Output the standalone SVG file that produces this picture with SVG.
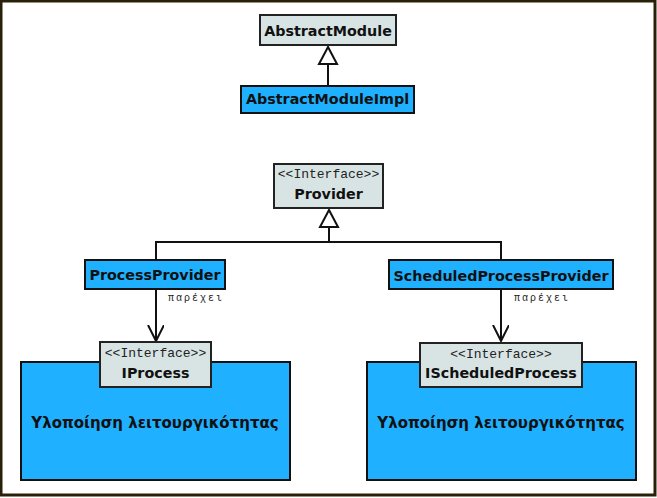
<svg xmlns="http://www.w3.org/2000/svg" width="657" height="498" viewBox="0 0 657 498">
<style>
.blue{fill:#1fb0ff;stroke:#111;stroke-width:2}
.grey{fill:#d8e4e4;stroke:#222;stroke-width:2}
.lbl{font-family:"DejaVu Sans","Verdana",sans-serif;font-weight:bold;font-size:14.3px;fill:#111;text-anchor:middle}
.big{font-family:"DejaVu Sans","Verdana",sans-serif;font-weight:bold;font-size:15px;fill:#111;text-anchor:middle}
.st{font-family:"Liberation Mono","Courier New",monospace;font-size:13px;fill:#222;text-anchor:middle}
.rel{font-family:"Liberation Mono","Courier New",monospace;font-size:10px;fill:#222;letter-spacing:2px}
.ln{fill:none;stroke:#111;stroke-width:2}
.tri{fill:#fff;stroke:#111;stroke-width:2}
</style>
<defs>
<marker id="open" markerWidth="20" markerHeight="20" refX="16" refY="8" orient="auto" markerUnits="userSpaceOnUse">
<path d="M0,0 L16,8 L0,16" fill="none" stroke="#111" stroke-width="2"/>
</marker>
</defs>
<rect x="1" y="1" width="654" height="494" fill="#fff" stroke="#2a2008" stroke-width="3"/>
<g id="connectors">
<line class="ln" x1="328" y1="85" x2="328" y2="64"/>
<polygon class="tri" points="328,47 319,64 337,64"/>
<polyline class="ln" points="156,260 156,242 501,242 501,260"/>
<line class="ln" x1="329" y1="242" x2="329" y2="227"/>
<polygon class="tri" points="329,210 320,227 338,227"/>
<line class="ln" x1="156" y1="289" x2="156" y2="341" marker-end="url(#open)"/>
<text class="rel" x="168" y="301">παρέχει</text>
<line class="ln" x1="501" y1="289" x2="501" y2="341" marker-end="url(#open)"/>
<text class="rel" x="514" y="301">παρέχει</text>
</g>
<g id="AbstractModule">
<rect class="grey" x="260" y="15" width="136" height="30"/>
<text class="lbl" x="328" y="36">AbstractModule</text>
</g>
<g id="AbstractModuleImpl">
<rect class="blue" x="241" y="86" width="173" height="27"/>
<text class="lbl" x="327.5" y="104">AbstractModuleImpl</text>
</g>
<g id="Provider">
<rect class="grey" x="274" y="164" width="109" height="44"/>
<text class="st" x="328.5" y="178">&lt;&lt;Interface&gt;&gt;</text>
<text class="lbl" x="328.5" y="199">Provider</text>
</g>
<g id="ProcessProvider">
<rect class="blue" x="85" y="260" width="140" height="29"/>
<text class="lbl" x="155" y="280">ProcessProvider</text>
</g>
<g id="ScheduledProcessProvider">
<rect class="blue" x="389" y="260" width="224" height="29"/>
<text class="lbl" x="501" y="281">ScheduledProcessProvider</text>
</g>
<g id="ProcessImpl">
<rect class="blue" x="21" y="362" width="269" height="118"/>
<text class="big" x="155" y="428">Υλοποίηση λειτουργικότητας</text>
</g>
<g id="IProcess">
<rect class="grey" x="100" y="342" width="111" height="45"/>
<text class="st" x="155.5" y="357">&lt;&lt;Interface&gt;&gt;</text>
<text class="lbl" x="155.5" y="378">IProcess</text>
</g>
<g id="ScheduledProcessImpl">
<rect class="blue" x="367" y="362" width="269" height="118"/>
<text class="big" x="501" y="428">Υλοποίηση λειτουργικότητας</text>
</g>
<g id="IScheduledProcess">
<rect class="grey" x="420" y="343" width="162" height="44"/>
<text class="st" x="501" y="358">&lt;&lt;Interface&gt;&gt;</text>
<text class="lbl" x="501" y="378">IScheduledProcess</text>
</g>
</svg>
